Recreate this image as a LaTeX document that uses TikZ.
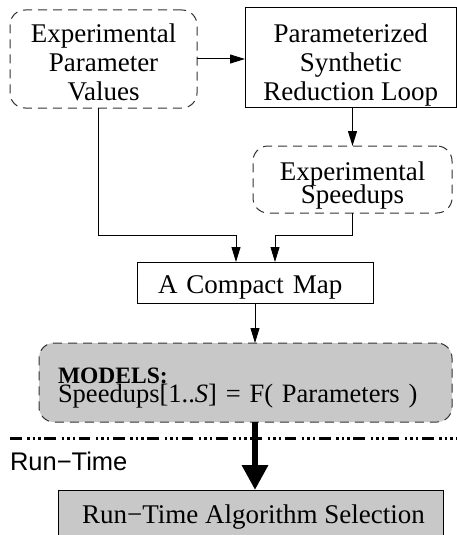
\documentclass[tikz,border=0pt]{standalone}
\usepackage{fontspec}
\setmainfont{Liberation Serif}
\newfontfamily\labelsans{Liberation Sans}
\usetikzlibrary{arrows.meta}
\definecolor{boxgray}{RGB}{200,200,200}
\definecolor{dashgray}{RGB}{50,50,50}
\lineskiplimit=-100pt
\begin{document}
\begin{tikzpicture}[x=1pt,y=-1pt,
  every node/.style={inner sep=0pt, outer sep=0pt},
  boxtext/.style={font=\fontsize{27}{29}\selectfont},
  solidbox/.style={boxtext, draw=black, line width=1pt, align=center},
  dashbox/.style={boxtext, draw=dashgray, line width=1pt, dash pattern=on 9pt off 6pt, rounded corners=15pt, align=center},
  conn/.style={line width=1pt, -{Triangle[length=15pt,width=9pt]}},
  bigconn/.style={line width=6.5pt, -{Triangle[length=25pt,width=25pt]}},
  divider/.style={line width=3.3pt, dash pattern=on 11.7pt off 5.5pt on 2.5pt off 3pt on 2.5pt off 3pt on 2.5pt off 3.63pt}
]
\useasboundingbox (0,0) rectangle (457,535);
\clip (0,0) rectangle (457,535);

\node[dashbox, minimum width=187pt, minimum height=98pt, text height=82pt, text depth=0pt] (pv) at (103.5,59) {Experimental\\Parameter\\Values};
\node[solidbox, minimum width=211.5pt, minimum height=99pt, text height=85pt, text depth=0pt] (psr) at (350.75,57.5) {Parameterized\\Synthetic\\Reduction Loop};
\node[dashbox, font=\fontsize{27}{23}\selectfont, minimum width=199pt, minimum height=67pt, text height=47pt, text depth=0pt] (es) at (352.5,179.5) {Experimental\\Speedups};
\node[solidbox, minimum width=236pt, minimum height=41pt, text width=194pt, inner xsep=21pt, align=left, text height=21pt, text depth=0pt] (cm) at (255,282.5) {A Compact Map};
\node[dashbox, fill=boxgray, font=\fontsize{26.5}{17.5}\selectfont, minimum width=413pt, minimum height=79pt, text width=375pt, inner xsep=19pt, align=left, text height=20pt, text depth=19pt] (md) at (245.5,382.5) {{\fontsize{23.5}{17.5}\selectfont\bfseries MODELS:}\\Speedups[1..\textit{S}] = F( Parameters )};
\node[solidbox, fill=boxgray, minimum width=385pt, minimum height=54pt, text height=18pt, text depth=6pt] (rts) at (250.5,517) {\hspace*{6pt}Run−Time Algorithm Selection};
\node[anchor=base west, font=\labelsans\fontsize{25.5}{28}\selectfont] (rtl) at (10,470) {Run−Time};

\coordinate (j1) at (236,235);
\coordinate (j2) at (275,235);
\coordinate (dl) at (10,438.5);
\coordinate (dr) at (457,438.5);

\draw[conn] (pv.east) -- (pv.east -| psr.west);
\draw[conn] (es.north |- psr.south) -- (es.north);
\draw[conn] ([xshift=-5.5pt]pv.south) |- (j1) -- (j1 |- cm.north);
\draw[conn] (es.south) |- (j2) -- (j2 |- cm.north);
\draw[conn] (cm.south) -- (cm.south |- md.north);
\draw[divider] (dl) -- (dr);
\draw[bigconn] (cm.south |- md.south) -- (cm.south |- rts.north);
\end{tikzpicture}
\end{document}
